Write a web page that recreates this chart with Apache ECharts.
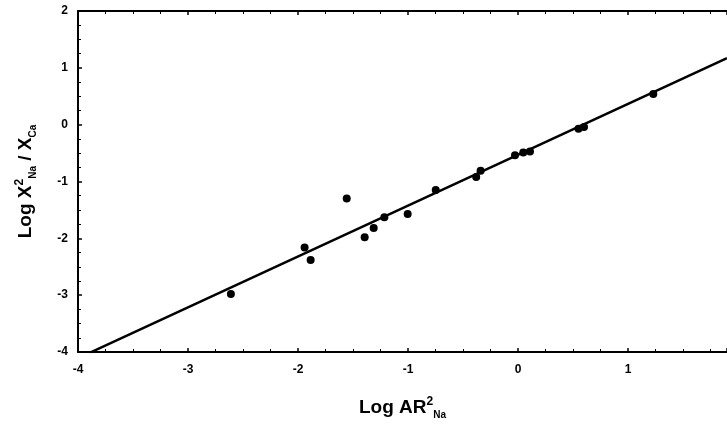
<!DOCTYPE html>
<html>
<head>
<meta charset="utf-8">
<script src="https://cdn.jsdelivr.net/npm/echarts@6/dist/echarts.min.js"></script>
<style>
  html, body { margin: 0; padding: 0; background: #fff; }
  #chart { width: 727px; height: 425px; }
</style>
</head>
<body>
<div id="chart"></div>
<script>
// measured points: log AR^2 Na (x) vs log X^2 Na / X Ca (y)
const pointX = [-2.61, -1.94, -1.885, -1.557, -1.394, -1.312, -1.215, -1.003, -0.748, -0.38, -0.34, -0.027, 0.048, 0.109, 0.55, 0.6, 1.23];
const pointY = [-2.98, -2.16, -2.38, -1.30, -1.98, -1.82, -1.63, -1.57, -1.15, -0.92, -0.81, -0.54, -0.49, -0.47, -0.07, -0.04, 0.54];

// fitted line end points
const fitX = [-3.89, 1.9];
const fitY = [-4.01, 1.17];

const xRange = [-4, 1.9];
const yRange = [-4, 2];

const font = "'Liberation Sans', Arial, sans-serif";

function buildPairs(xs, ys) {
  return xs.map((x, i) => [x, ys[i]]);
}

const richName = {
  sup: { fontSize: 12, fontWeight: "bold", fontFamily: font, color: "#000", verticalAlign: "top", lineHeight: 24 },
  sub: { fontSize: 10, fontWeight: "bold", fontFamily: font, color: "#000", verticalAlign: "bottom", lineHeight: 14, padding: [8, 0, 0, 0] },
};

const axisLine = { onZero: false, lineStyle: { color: "#000", width: 2 } };
const axisTick = { inside: true, length: 4, lineStyle: { color: "#000", width: 1.5 } };
const minorTick = { show: true, splitNumber: 4, length: 3, lineStyle: { color: "#000" } };

const chart = echarts.init(document.getElementById("chart"));
chart.setOption({
  animation: false,
  backgroundColor: "#fff",
  grid: { left: 78, top: 11, right: 0, bottom: 72 },
  xAxis: [
    {
      type: "value",
      position: "bottom",
      min: xRange[0],
      max: xRange[1],
      interval: 1,
      splitLine: { show: false },
      axisLine, axisTick, minorTick,
      axisLabel: {
        margin: 12, color: "#000", fontFamily: font, fontWeight: "bold", fontSize: 12,
        showMaxLabel: false,
      },
      name: "Log AR{sup|2}{sub|Na}",
      nameLocation: "middle",
      nameGap: 44,
      nameTextStyle: {
        color: "#000", fontFamily: font, fontWeight: "bold", fontSize: 19, lineHeight: 24,
        rich: richName,
      },
    },
    {
      type: "value",
      position: "top",
      min: xRange[0],
      max: xRange[1],
      interval: 1,
      splitLine: { show: false },
      axisLine, axisTick, minorTick,
      axisLabel: { show: false },
    },
  ],
  yAxis: {
    type: "value",
    position: "left",
    min: yRange[0],
    max: yRange[1],
    interval: 1,
    splitLine: { show: false },
    axisLine, axisTick, minorTick,
    axisLabel: { margin: 10, color: "#000", fontFamily: font, fontWeight: "bold", fontSize: 12 },
    name: "Log X{sup|2}{sub|Na} / X{sub|Ca}",
    nameLocation: "middle",
    nameGap: 40,
    nameTextStyle: {
      color: "#000", fontFamily: font, fontWeight: "bold", fontSize: 19, lineHeight: 24,
      rich: richName,
    },
  },
  series: [
    {
      name: "fit",
      type: "line",
      data: buildPairs(fitX, fitY),
      showSymbol: false,
      lineStyle: { color: "#000", width: 2.5 },
      z: 2,
    },
    {
      name: "data",
      type: "scatter",
      data: buildPairs(pointX, pointY),
      symbol: "circle",
      symbolSize: 8,
      itemStyle: { color: "#000", opacity: 1 },
      z: 3,
    },
  ],
});
</script>
</body>
</html>
